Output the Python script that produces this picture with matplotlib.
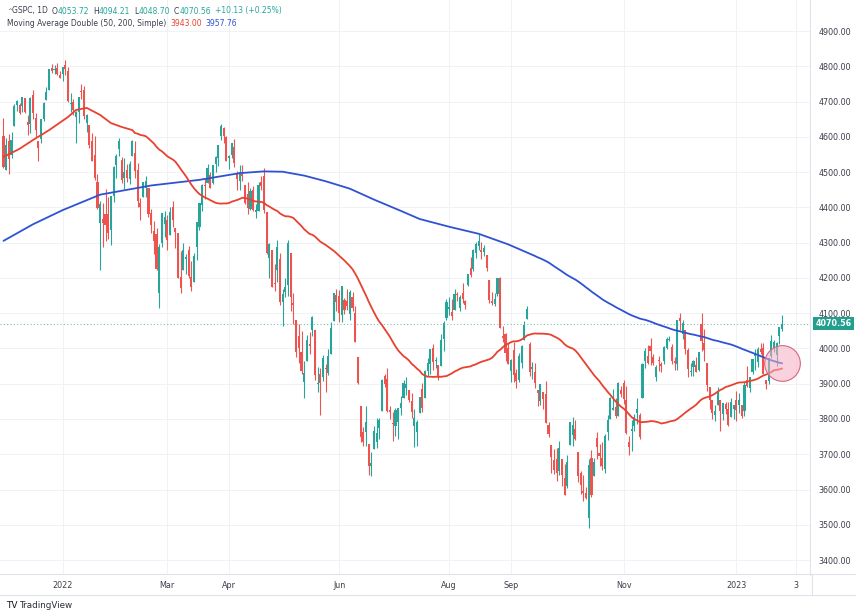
import matplotlib.pyplot as plt
import numpy as np
import pandas as pd

# daily candles (open, high, low, close), one small list per month
dec21 = [(4602.8, 4652.9, 4510.3, 4513.0), (4504.7, 4595.5, 4504.7, 4577.1), (4589.5, 4608.0, 4495.1, 4538.4),
         (4548.4, 4612.6, 4540.5, 4591.7), (4632.0, 4694.0, 4632.0, 4686.8), (4690.9, 4705.1, 4674.5, 4701.2),
         (4691.0, 4695.3, 4666.0, 4667.5), (4687.6, 4713.6, 4670.2, 4712.0), (4710.3, 4710.3, 4667.6, 4669.0),
         (4642.0, 4660.5, 4606.5, 4634.1), (4636.5, 4712.6, 4611.2, 4709.9), (4719.1, 4732.0, 4651.9, 4668.7),
         (4652.5, 4666.7, 4600.2, 4620.6), (4587.9, 4587.9, 4531.1, 4568.0), (4595.0, 4651.1, 4583.2, 4649.2),
         (4650.4, 4697.7, 4645.5, 4696.6), (4704.0, 4740.7, 4704.0, 4725.8), (4734.0, 4791.5, 4734.0, 4791.2),
         (4795.5, 4807.0, 4780.0, 4786.4), (4788.6, 4804.1, 4778.1, 4793.1), (4794.2, 4808.9, 4775.3, 4778.7),
         (4775.2, 4786.8, 4765.8, 4766.2)]
jan22 = [(4778.1, 4796.6, 4758.2, 4796.6), (4804.5, 4818.6, 4774.3, 4793.5), (4788.0, 4797.7, 4699.4, 4700.6),
         (4693.4, 4725.0, 4671.3, 4696.1), (4697.7, 4708.0, 4662.7, 4677.0), (4655.3, 4673.0, 4582.2, 4670.3),
         (4669.1, 4714.1, 4638.3, 4713.1), (4728.6, 4748.8, 4706.7, 4726.4), (4733.6, 4744.1, 4650.3, 4659.0),
         (4638.0, 4665.1, 4614.8, 4662.9), (4632.2, 4632.2, 4568.7, 4577.1), (4588.0, 4611.6, 4530.2, 4532.8),
         (4547.4, 4602.1, 4478.0, 4482.7), (4471.4, 4494.5, 4395.3, 4397.9), (4356.3, 4417.4, 4222.6, 4410.1),
         (4366.6, 4411.0, 4287.1, 4356.5), (4380.6, 4453.2, 4304.8, 4349.9), (4380.6, 4428.7, 4309.5, 4326.5),
         (4336.2, 4432.7, 4292.5, 4431.9), (4431.8, 4516.9, 4414.0, 4515.6)]
feb22 = [(4519.6, 4550.5, 4483.5, 4546.5), (4566.4, 4595.3, 4544.3, 4589.4), (4535.4, 4542.9, 4470.4, 4477.4),
         (4482.8, 4539.7, 4451.5, 4500.5), (4505.8, 4521.9, 4471.5, 4483.9), (4480.0, 4531.3, 4465.4, 4521.5),
         (4547.0, 4590.0, 4547.0, 4587.2), (4553.2, 4588.9, 4484.3, 4504.1), (4506.3, 4526.3, 4401.4, 4418.6),
         (4412.6, 4426.2, 4364.8, 4401.7), (4429.3, 4472.8, 4429.3, 4471.1), (4455.8, 4489.6, 4429.7, 4475.0),
         (4456.1, 4456.1, 4373.8, 4380.3), (4384.6, 4394.6, 4327.2, 4348.9), (4332.7, 4362.1, 4267.1, 4304.8),
         (4324.9, 4341.5, 4221.5, 4225.5), (4155.8, 4294.7, 4114.7, 4288.7), (4298.4, 4385.3, 4286.8, 4384.7),
         (4354.2, 4388.8, 4315.1, 4373.9)]
mar22 = [(4363.1, 4378.5, 4279.5, 4306.3), (4322.6, 4401.5, 4322.6, 4386.5), (4401.3, 4416.8, 4345.6, 4363.5),
         (4342.1, 4342.1, 4285.0, 4328.9), (4327.0, 4327.0, 4199.9, 4201.1), (4202.7, 4276.9, 4157.9, 4170.7),
         (4223.1, 4299.4, 4223.1, 4277.9), (4252.6, 4268.3, 4209.8, 4259.5), (4279.5, 4291.0, 4200.5, 4204.3),
         (4202.8, 4247.6, 4161.7, 4173.1), (4188.8, 4271.1, 4187.9, 4262.5), (4288.1, 4358.0, 4252.0, 4357.9),
         (4345.1, 4412.7, 4335.7, 4411.7), (4407.3, 4465.4, 4390.6, 4463.1), (4462.4, 4481.8, 4424.3, 4461.2),
         (4469.1, 4522.0, 4469.1, 4511.6), (4493.1, 4501.1, 4455.8, 4456.2), (4470.0, 4520.6, 4465.2, 4520.2),
         (4522.7, 4546.0, 4501.1, 4543.1), (4541.1, 4575.7, 4517.7, 4575.5), (4602.9, 4637.3, 4589.7, 4631.6),
         (4624.2, 4627.8, 4581.3, 4602.5), (4599.0, 4603.1, 4530.4, 4530.4)]
apr22 = [(4540.3, 4548.7, 4507.6, 4545.9), (4548.0, 4583.5, 4539.2, 4582.6), (4572.5, 4593.5, 4514.2, 4525.1),
         (4494.2, 4503.9, 4450.0, 4481.2), (4474.7, 4521.2, 4450.3, 4500.2), (4494.2, 4520.4, 4474.6, 4488.3),
         (4462.6, 4464.4, 4408.4, 4412.5), (4437.6, 4471.0, 4381.3, 4397.5), (4394.3, 4453.9, 4392.7, 4446.6),
         (4449.1, 4460.5, 4390.8, 4392.6), (4385.6, 4410.3, 4370.3, 4391.7), (4390.6, 4471.3, 4390.6, 4462.2),
         (4472.3, 4488.3, 4448.8, 4459.5), (4489.2, 4512.9, 4384.5, 4393.7), (4385.8, 4385.8, 4267.6, 4271.8),
         (4255.3, 4299.0, 4200.8, 4296.1), (4278.1, 4278.1, 4175.0, 4175.2), (4186.5, 4240.7, 4162.9, 4184.0),
         (4222.6, 4308.5, 4188.6, 4287.5), (4253.8, 4269.7, 4124.3, 4131.9)]
may22 = [(4130.6, 4169.8, 4062.5, 4155.4), (4159.8, 4200.1, 4147.1, 4175.5), (4181.2, 4307.7, 4148.9, 4300.2),
         (4270.4, 4270.4, 4106.0, 4146.9), (4128.2, 4157.7, 4067.9, 4123.3), (4081.3, 4081.3, 3975.5, 3991.2),
         (4035.2, 4068.8, 3958.2, 4001.1), (3990.1, 4049.1, 3928.8, 3935.2), (3904.0, 3964.8, 3858.9, 3930.1),
         (3963.9, 4038.9, 3963.9, 4023.9), (4013.0, 4046.5, 3984.0, 4008.0), (4052.0, 4090.7, 4033.9, 4088.9),
         (4052.0, 4052.0, 3911.9, 3923.7), (3899.0, 3946.0, 3876.6, 3900.8), (3927.8, 3943.4, 3810.3, 3901.4),
         (3919.4, 3981.9, 3909.0, 3973.8), (3942.9, 3955.7, 3875.1, 3941.5), (3929.6, 3999.3, 3925.0, 3978.7),
         (3984.6, 4075.1, 3984.6, 4057.8), (4077.4, 4158.5, 4077.4, 4158.2), (4151.1, 4168.3, 4104.9, 4132.2)]
jun22 = [(4149.8, 4166.5, 4073.9, 4101.2), (4095.4, 4177.5, 4074.4, 4176.8), (4137.6, 4142.7, 4098.7, 4108.5),
         (4134.7, 4168.8, 4109.2, 4121.4), (4096.5, 4164.9, 4080.2, 4160.7), (4147.1, 4160.1, 4107.2, 4115.8),
         (4101.7, 4119.1, 4017.2, 4017.8), (3974.4, 3974.4, 3900.2, 3900.9), (3838.1, 3838.1, 3734.3, 3749.6),
         (3763.5, 3778.2, 3724.1, 3735.5), (3764.1, 3837.6, 3722.3, 3790.0), (3728.2, 3728.2, 3639.8, 3666.8),
         (3665.9, 3707.7, 3636.9, 3674.8), (3715.3, 3779.7, 3715.3, 3764.8), (3733.9, 3801.8, 3717.7, 3759.9),
         (3774.7, 3802.6, 3743.5, 3795.7), (3821.8, 3913.7, 3821.8, 3911.7), (3920.8, 3927.7, 3889.7, 3900.1),
         (3913.0, 3945.9, 3820.1, 3821.6), (3825.1, 3836.5, 3799.0, 3818.8), (3786.0, 3819.0, 3738.7, 3785.4)]
jul22 = [(3781.0, 3829.8, 3752.1, 3825.3), (3792.6, 3832.2, 3742.1, 3831.4), (3832.0, 3865.2, 3811.4, 3845.1),
         (3858.9, 3910.6, 3858.9, 3902.6), (3888.3, 3918.5, 3869.3, 3899.4), (3880.9, 3880.9, 3847.2, 3854.4),
         (3852.0, 3873.4, 3802.4, 3818.8), (3779.7, 3829.4, 3721.6, 3801.8), (3764.0, 3796.4, 3723.3, 3790.4),
         (3818.0, 3863.6, 3817.2, 3863.2), (3883.8, 3902.4, 3818.6, 3830.9), (3860.7, 3939.8, 3860.7, 3936.7),
         (3935.3, 3974.1, 3922.0, 3959.9), (3955.5, 3999.3, 3927.6, 3999.0), (4000.2, 4012.4, 3938.9, 3961.6),
         (3965.7, 3975.3, 3943.5, 3966.8), (3953.2, 3953.2, 3910.7, 3921.1), (3951.4, 4039.6, 3951.4, 4023.6),
         (4026.1, 4078.9, 3993.0, 4072.4), (4087.3, 4140.2, 4079.2, 4130.3)]
aug22 = [(4112.4, 4145.0, 4096.0, 4118.6), (4104.2, 4140.5, 4079.8, 4091.2), (4108.0, 4167.7, 4108.0, 4155.2),
         (4154.9, 4161.3, 4135.4, 4151.9), (4115.9, 4151.6, 4107.3, 4145.2), (4155.9, 4186.6, 4129.0, 4140.1),
         (4133.1, 4137.3, 4112.1, 4122.5), (4181.0, 4211.0, 4177.3, 4210.2), (4227.4, 4257.9, 4201.4, 4207.3),
         (4225.0, 4280.5, 4219.8, 4280.2), (4269.4, 4301.8, 4256.9, 4297.1), (4290.5, 4325.3, 4277.8, 4305.2),
         (4280.4, 4302.2, 4253.1, 4274.0), (4273.1, 4292.5, 4262.0, 4283.7), (4266.3, 4266.3, 4218.7, 4228.5),
         (4195.1, 4195.1, 4129.9, 4138.0), (4133.1, 4159.8, 4124.0, 4128.7), (4126.6, 4156.6, 4120.0, 4140.8),
         (4153.3, 4200.5, 4147.6, 4199.1), (4198.7, 4203.0, 4057.7, 4057.7), (4034.6, 4063.0, 4017.4, 4030.6),
         (4041.3, 4045.0, 3965.2, 3986.2), (4000.7, 4015.4, 3954.5, 3955.0)]
sep22 = [(3936.7, 3970.2, 3903.7, 3966.9), (3994.7, 4018.4, 3906.2, 3924.3), (3930.9, 3942.6, 3886.8, 3908.2),
         (3909.4, 3987.9, 3906.0, 3979.9), (3959.9, 4010.5, 3944.8, 4006.2), (4022.9, 4076.8, 4022.9, 4067.4),
         (4083.7, 4119.3, 4083.7, 4110.4), (4013.2, 4017.7, 3921.3, 3932.7), (3940.7, 3961.9, 3912.6, 3946.0),
         (3932.4, 3959.1, 3888.3, 3901.4), (3881.0, 3881.0, 3837.1, 3873.3), (3849.9, 3900.5, 3838.5, 3899.9),
         (3875.2, 3876.0, 3827.5, 3855.9), (3871.4, 3907.1, 3789.5, 3789.9), (3782.4, 3790.9, 3749.5, 3758.0),
         (3727.1, 3727.1, 3647.5, 3693.2), (3682.7, 3715.7, 3644.8, 3655.0), (3686.4, 3717.5, 3623.3, 3647.3),
         (3651.9, 3736.7, 3640.6, 3719.0), (3687.0, 3687.0, 3610.4, 3640.5), (3633.5, 3671.4, 3584.1, 3585.6)]
oct22 = [(3609.8, 3698.4, 3604.9, 3678.4), (3726.5, 3791.9, 3726.5, 3790.9), (3753.3, 3806.9, 3722.7, 3783.3),
         (3772.0, 3797.9, 3739.2, 3744.5), (3706.7, 3706.7, 3620.7, 3639.7), (3647.5, 3652.2, 3588.1, 3612.4),
         (3595.9, 3640.7, 3568.5, 3588.8), (3590.8, 3608.3, 3573.9, 3577.0), (3520.4, 3685.4, 3491.6, 3669.9),
         (3690.4, 3712.0, 3579.7, 3583.1), (3638.7, 3689.7, 3638.7, 3678.0), (3746.3, 3762.8, 3686.5, 3720.0),
         (3703.1, 3728.6, 3666.5, 3695.2), (3689.1, 3736.0, 3656.4, 3665.8), (3657.1, 3757.9, 3647.4, 3752.8),
         (3762.0, 3810.7, 3741.7, 3797.3), (3799.4, 3862.9, 3799.4, 3859.1), (3826.0, 3886.2, 3824.1, 3830.6),
         (3834.7, 3860.0, 3803.8, 3807.3), (3808.3, 3905.4, 3808.3, 3901.1), (3881.9, 3893.7, 3863.2, 3872.0)]
nov22 = [(3901.8, 3911.8, 3843.8, 3856.1), (3852.9, 3894.4, 3758.7, 3759.7), (3733.3, 3750.6, 3698.2, 3719.9),
         (3767.0, 3796.3, 3708.8, 3770.6), (3780.7, 3814.0, 3764.7, 3806.8), (3817.0, 3859.4, 3786.3, 3828.1),
         (3810.9, 3818.2, 3744.2, 3748.6), (3859.9, 3958.3, 3859.9, 3956.4), (3963.7, 4001.5, 3944.8, 3992.9),
         (3978.0, 4009.0, 3956.4, 3957.3), (4006.4, 4028.8, 3953.2, 3991.7), (3976.8, 3983.1, 3954.3, 3958.8),
         (3919.3, 3954.3, 3906.5, 3946.6), (3966.4, 3979.9, 3936.0, 3965.3), (3956.2, 3962.0, 3933.3, 3949.9),
         (3965.5, 4005.9, 3956.9, 4003.6), (4000.3, 4033.8, 3998.7, 4027.3), (4023.3, 4034.0, 4020.8, 4026.1),
         (4005.4, 4012.3, 3955.8, 3963.9), (3964.2, 3976.8, 3937.7, 3957.6), (3957.2, 4080.1, 3938.6, 4080.1)]
dec22 = [(4087.1, 4100.5, 4050.9, 4076.6), (4040.2, 4080.5, 4026.6, 4071.7), (4052.0, 4052.5, 3984.5, 3998.8),
         (3996.6, 4001.5, 3918.4, 3941.3), (3933.3, 3957.6, 3922.7, 3933.9), (3947.8, 3966.4, 3921.0, 3963.5),
         (3954.2, 3977.0, 3933.0, 3934.4), (3939.3, 3990.7, 3935.3, 3990.6), (4069.4, 4101.0, 3993.0, 4019.7),
         (4015.5, 4053.8, 3965.7, 3995.3), (3958.4, 3958.4, 3879.5, 3895.8), (3890.9, 3890.9, 3827.9, 3852.4),
         (3853.8, 3854.9, 3800.0, 3817.7), (3810.5, 3838.2, 3795.6, 3821.6), (3839.5, 3889.8, 3839.5, 3878.4),
         (3853.6, 3853.6, 3764.5, 3822.4), (3815.1, 3845.8, 3797.0, 3844.8), (3843.3, 3846.7, 3813.2, 3829.3),
         (3829.6, 3848.3, 3780.8, 3783.2), (3805.5, 3858.2, 3805.5, 3849.3), (3829.1, 3839.9, 3800.3, 3839.5)]
jan23 = [(3853.3, 3878.5, 3794.3, 3824.1), (3840.4, 3873.2, 3815.8, 3853.0), (3839.7, 3839.7, 3802.4, 3808.1),
         (3823.4, 3906.2, 3809.6, 3895.1), (3910.8, 3950.6, 3890.4, 3892.1), (3888.6, 3919.8, 3877.3, 3919.3),
         (3932.4, 3970.1, 3928.5, 3969.6), (3977.6, 3997.8, 3937.6, 3983.2), (3960.6, 4004.0, 3947.7, 3999.1),
         (3999.3, 4015.4, 3984.6, 3991.0), (4002.3, 4014.2, 3926.6, 3928.9), (3911.8, 3911.8, 3885.5, 3898.9),
         (3909.0, 3973.0, 3897.9, 3972.6), (3978.1, 4039.3, 3971.6, 4019.8), (4001.7, 4023.9, 3989.8, 4017.0),
         (3982.7, 4019.6, 3949.1, 4016.2), (4036.1, 4061.6, 4013.3, 4060.4), (4053.72, 4094.21, 4048.70, 4070.56)]

# 50-day MA for the first bars (before 50 closes exist)
ma50_early_bar = [0, 6, 11, 17, 24, 27, 31, 36, 40, 44, 48]
ma50_early_val = [4543, 4566, 4591, 4619, 4656, 4676, 4682, 4662, 4639, 4628, 4619]

# 200-day MA for the bars before 200 closes exist
ma200_early_bar = [0, 11, 22, 36, 55, 73, 88, 97, 104, 112, 120, 129, 138, 148, 155, 166, 177, 188, 198]
ma200_early_val = [4305, 4352, 4392, 4436, 4462, 4478, 4497, 4502, 4501, 4490, 4474, 4453, 4422, 4390,
                   4367, 4345, 4325, 4295, 4262]

time_labels = ["2022", "Mar", "Apr", "Jun", "Aug", "Sep", "Nov", "2023", "3"]
time_label_bar = [22, 61, 84, 125, 166, 189, 231, 273, 295]

last_price = 4070.56
ma50_last = 3943.00
ma200_last = 3957.76

up_col = "#26a69a"
down_col = "#ef5350"
ma50_col = "#e8412f"
ma200_col = "#2f52d4"
text_col = "#3b3f4a"

candles = np.array(dec21 + jan22 + feb22 + mar22 + apr22 + may22 + jun22 + jul22 + aug22 + sep22
                   + oct22 + nov22 + dec22 + jan23)
o, h, l, c = candles.T
bars = np.arange(len(c))

closes = pd.Series(c)
ma50 = closes.rolling(50).mean().values
ma200 = closes.rolling(200).mean().values
ma50_x = np.concatenate([ma50_early_bar, bars[49:]])
ma50_y = np.concatenate([ma50_early_val, ma50[49:]])
ma200_x = np.concatenate([ma200_early_bar, bars[199:]])
ma200_y = np.concatenate([ma200_early_val, ma200[199:]])

W, H = 856, 614
fig = plt.figure(figsize=(W / 100, H / 100), dpi=100)
fig.patch.set_facecolor("white")
ax = fig.add_axes([0, (H - 575) / H, 810 / W, 575 / H])

ax.set_xlim(-1.3, 300.4)
ax.set_ylim(3357.6, 4987.9)

for t in range(3400, 5000, 100):
    ax.axhline(t, color="#f0f2f6", lw=0.7, zorder=0)
for b in time_label_bar:
    ax.axvline(b, color="#f0f2f6", lw=0.7, zorder=0)

up = c >= o
cols = np.where(up, up_col, down_col)
ax.vlines(bars, l, h, colors=cols, lw=0.8, zorder=2)
body = np.maximum(np.abs(c - o), 2.0)
ax.bar(bars, body, bottom=np.minimum(o, c), width=0.78, color=cols, lw=0, zorder=3)

ax.plot(ma200_x, ma200_y, color=ma200_col, lw=1.3, zorder=4, solid_capstyle="round")
ax.plot(ma50_x, ma50_y, color=ma50_col, lw=1.3, zorder=4, solid_capstyle="round")

ax.axhline(last_price, color="#7fbfb6", lw=0.8, ls=(0, (1, 2)), zorder=1)

# highlight of the cross
ax.scatter([bars[-1]], [(ma50_last + ma200_last) / 2 + 8], s=660, marker="o",
           facecolor=(0.97, 0.68, 0.76, 0.55), edgecolor="#d9657f", lw=0.8, zorder=5)

for s in ["top", "left", "bottom"]:
    ax.spines[s].set_visible(False)
ax.spines["right"].set_color("#e0e3eb")
ax.spines["right"].set_linewidth(0.8)

ax.yaxis.tick_right()
ax.set_yticks(range(3400, 5000, 100))
ax.set_yticklabels([f"{t:.2f}" for t in range(3400, 5000, 100)])
ax.tick_params(axis="y", length=0, pad=6, labelsize=5.8, labelcolor=text_col)
ax.set_xticks(time_label_bar)
ax.set_xticklabels(time_labels)
ax.tick_params(axis="x", length=0, pad=4, labelsize=5.8, labelcolor=text_col)

# last price tag
ax.annotate(f"{last_price:.2f}", xy=(1, last_price), xycoords=("axes fraction", "data"),
            xytext=(4, 0), textcoords="offset points", va="center", ha="left",
            fontsize=5.8, color="white", fontweight="bold",
            bbox=dict(boxstyle="square,pad=0.3", fc="#22a08f", ec="none"))

# frame of the time scale
for yy in [574, 595]:
    fig.add_artist(plt.Line2D([0, 1], [1 - yy / H] * 2, color="#e0e3eb", lw=0.8))
fig.add_artist(plt.Line2D([812 / W] * 2, [1 - 574 / H, 1 - 595 / H], color="#e0e3eb", lw=0.8))

renderer = fig.canvas.get_renderer()


def pieces(x, y, parts):
    for s, col, gap, fs in parts:
        t = fig.text(x / W, 1 - y / H, s, color=col, fontsize=fs, ha="left", va="center")
        x += t.get_window_extent(renderer).width + gap


fs = 5.5
pieces(7, 11, [("^", text_col, 0, 4.2), ("GSPC, 1D", text_col, 4, fs), ("O", text_col, 0, fs),
               ("4053.72", up_col, 4, fs), ("H", text_col, 0, fs), ("4094.21", up_col, 4, fs),
               ("L", text_col, 0, fs), ("4048.70", up_col, 4, fs), ("C", text_col, 0, fs),
               ("4070.56", up_col, 4, fs), ("+10.13 (+0.25%)", up_col, 0, fs)])
pieces(7, 24, [("Moving Average Double (50, 200, Simple)", text_col, 4, fs),
               (f"{ma50_last:.2f}", ma50_col, 4, fs), (f"{ma200_last:.2f}", ma200_col, 0, fs)])
pieces(6, 605, [("TV", "#131722", 2, 6.5), ("TradingView", "#2a2e39", 0, 6.3)])

fig.savefig("out.png", dpi=100, facecolor="white")
